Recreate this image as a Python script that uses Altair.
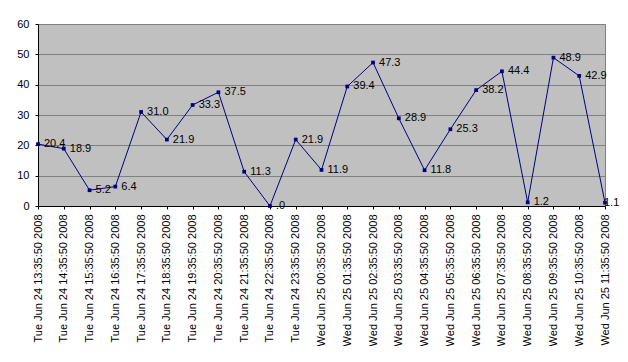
import altair as alt
import pandas as pd

times = [
    "Tue Jun 24 13:35:50 2008", "Tue Jun 24 14:35:50 2008", "Tue Jun 24 15:35:50 2008",
    "Tue Jun 24 16:35:50 2008", "Tue Jun 24 17:35:50 2008", "Tue Jun 24 18:35:50 2008",
    "Tue Jun 24 19:35:50 2008", "Tue Jun 24 20:35:50 2008", "Tue Jun 24 21:35:50 2008",
    "Tue Jun 24 22:35:50 2008", "Tue Jun 24 23:35:50 2008",
    "Wed Jun 25 00:35:50 2008", "Wed Jun 25 01:35:50 2008", "Wed Jun 25 02:35:50 2008",
    "Wed Jun 25 03:35:50 2008", "Wed Jun 25 04:35:50 2008", "Wed Jun 25 05:35:50 2008",
    "Wed Jun 25 06:35:50 2008", "Wed Jun 25 07:35:50 2008", "Wed Jun 25 08:35:50 2008",
    "Wed Jun 25 09:35:50 2008", "Wed Jun 25 10:35:50 2008", "Wed Jun 25 11:35:50 2008",
]
values = [20.4, 18.9, 5.2, 6.4, 31.0, 21.9, 33.3, 37.5, 11.3, 0.0, 21.9,
          11.9, 39.4, 47.3, 28.9, 11.8, 25.3, 38.2, 44.4, 1.2, 48.9, 42.9, 1.1]
y_ticks = [0, 10, 20, 30, 40, 50, 60]


def fmt(v):
    s = f"{v:.1f}"
    return s[1:] if s.startswith("0") else s


n = len(values)
df = pd.DataFrame({"time": times, "value": values, "label": [fmt(v) for v in values],
                   "idx": list(range(n))})

FONT = "Liberation Sans"
NAVY = "#000080"

x = alt.X("time:N", sort=None, title=None,
          scale=alt.Scale(type="point", padding=0),
          axis=alt.Axis(labelAngle=-90, labelFont=FONT, labelFontSize=11, labelColor="black",
                        domainColor="black", tickColor="black", tickSize=3, labelPadding=5,
                        grid=False, labelOverlap=False))
y = alt.Y("value:Q", title=None,
          scale=alt.Scale(domain=[0, 60], nice=False, zero=True),
          axis=alt.Axis(values=y_ticks, labelFont=FONT, labelFontSize=11, labelColor="black",
                        domainColor="black", tickColor="black", tickSize=3, labelPadding=6,
                        grid=True, gridColor="#808080", gridWidth=1))

base = alt.Chart(df)
line = base.mark_line(color=NAVY, strokeWidth=1).encode(x=x, y=y)
pts = base.mark_point(shape="square", filled=True, color=NAVY, size=14, opacity=1).encode(x=x, y=y)
txt = base.transform_filter(f"datum.idx < {n - 1}").mark_text(
    align="left", baseline="middle", dx=6, font=FONT, fontSize=11, color="black"
).encode(x=x, y=y, text="label:N")
txt_last = base.transform_filter(f"datum.idx == {n - 1}").mark_text(
    align="left", baseline="middle", dx=-1, font=FONT, fontSize=11, color="black"
).encode(x=x, y=y, text="label:N")

chart = (line + pts + txt + txt_last).properties(
    width=567, height=182,
    autosize=alt.AutoSizeParams(type="none"),
    padding={"left": 30, "top": 16, "right": 15, "bottom": 140},
    background="white",
).configure_view(fill="#C0C0C0", stroke="#808080", strokeWidth=1)

chart.save("out.html", embed_options={"renderer": "svg", "actions": False})
